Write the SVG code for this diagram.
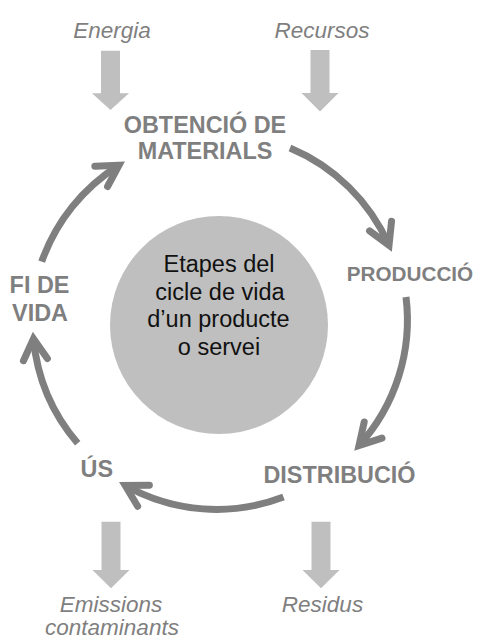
<svg xmlns="http://www.w3.org/2000/svg" width="478" height="639" viewBox="0 0 478 639">
  <style>
    .stage { font-family: "Liberation Sans", Arial, sans-serif; font-weight: bold; font-size: 23.4px; fill: #7f7f7f; text-anchor: middle; }
    .io { font-family: "Liberation Sans", Arial, sans-serif; font-style: italic; font-size: 22.5px; fill: #7f7f7f; text-anchor: middle; }
    .core { font-family: "Liberation Sans", Arial, sans-serif; font-size: 23.5px; fill: #111111; text-anchor: middle; }
    .cycle { fill: none; stroke: #7f7f7f; stroke-width: 7; stroke-linecap: butt; marker-end: url(#chev); }
    .flow { fill: #bfbfbf; stroke: none; }
  </style>
  <defs>
    <marker id="chev" markerUnits="userSpaceOnUse" markerWidth="40" markerHeight="40" viewBox="-30 -20 40 40" refX="0" refY="0" orient="auto" overflow="visible">
      <path d="M-21,-12 L0,0 L-21,12" fill="none" stroke="#7f7f7f" stroke-width="7" stroke-linecap="round" stroke-linejoin="miter"/>
    </marker>
  </defs>

  <rect width="478" height="639" fill="#ffffff"/>

  <g id="connectors">
    <path class="cycle" d="M290,148 A187,187 0 0 1 389,245.3"/>
    <path class="cycle" d="M406,297 A187,187 0 0 1 359,445.6"/>
    <path class="cycle" d="M283.5,497 A187,187 0 0 1 125.2,485.5"/>
    <path class="cycle" d="M77.7,443.3 A187,187 0 0 1 33.5,338.7"/>
    <path class="cycle" d="M41.7,261.7 A187,187 0 0 1 119,165.2"/>
    <polygon class="flow" points="101,50.7 120,50.7 120,93.3 129,93.3 110.5,110 92,93.3 101,93.3"/>
    <polygon class="flow" points="310.5,50 329.5,50 329.5,93 338.5,93 320,111.5 301.5,93 310.5,93"/>
    <polygon class="flow" points="101.5,521.7 120.5,521.7 120.5,570 129.5,570 111,588.3 92.5,570 101.5,570"/>
    <polygon class="flow" points="311.5,521.7 330.5,521.7 330.5,570 339.5,570 321,588.3 302.5,570 311.5,570"/>
  </g>

  <g id="center">
    <circle cx="219" cy="325" r="109" fill="#bfbfbf"/>
    <text class="core" x="219" y="271.7">Etapes del</text>
    <text class="core" x="220" y="299.5">cicle de vida</text>
    <text class="core" x="218.5" y="327.3">d’un producte</text>
    <text class="core" x="219" y="355.1">o servei</text>
  </g>

  <g id="obtencio">
    <text class="stage" x="205" y="133.3">OBTENCIÓ DE</text>
    <text class="stage" x="205" y="159">MATERIALS</text>
  </g>
  <g id="produccio">
    <text class="stage" x="410" y="281" style="font-size:20.7px">PRODUCCIÓ</text>
  </g>
  <g id="distribucio">
    <text class="stage" x="339.5" y="482.7">DISTRIBUCIÓ</text>
  </g>
  <g id="us">
    <text class="stage" x="96.8" y="477.3">ÚS</text>
  </g>
  <g id="fidevida">
    <text class="stage" x="39.5" y="293.3">FI DE</text>
    <text class="stage" x="40" y="320.7">VIDA</text>
  </g>

  <g id="energia">
    <text class="io" x="112" y="38">Energia</text>
  </g>
  <g id="recursos">
    <text class="io" x="322" y="37.5">Recursos</text>
  </g>
  <g id="emissions">
    <text class="io" x="111" y="611.7">Emissions</text>
    <text class="io" x="112" y="635">contaminants</text>
  </g>
  <g id="residus">
    <text class="io" x="322.5" y="611.7">Residus</text>
  </g>
</svg>
